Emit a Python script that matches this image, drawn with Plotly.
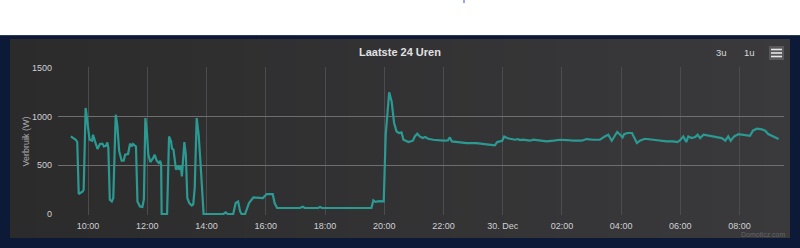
import plotly.graph_objects as go

# ---- data ----
times = [
    "2019-12-29 09:25", "2019-12-29 09:35", "2019-12-29 09:38", "2019-12-29 09:41", "2019-12-29 09:49",
    "2019-12-29 09:51", "2019-12-29 09:55", "2019-12-29 09:59", "2019-12-29 10:03", "2019-12-29 10:08",
    "2019-12-29 10:10", "2019-12-29 10:14", "2019-12-29 10:19", "2019-12-29 10:24", "2019-12-29 10:29",
    "2019-12-29 10:32", "2019-12-29 10:36", "2019-12-29 10:39", "2019-12-29 10:41", "2019-12-29 10:44",
    "2019-12-29 10:48", "2019-12-29 10:51", "2019-12-29 10:56", "2019-12-29 10:59", "2019-12-29 11:03",
    "2019-12-29 11:08", "2019-12-29 11:12", "2019-12-29 11:15", "2019-12-29 11:21", "2019-12-29 11:25",
    "2019-12-29 11:29", "2019-12-29 11:31", "2019-12-29 11:37", "2019-12-29 11:40", "2019-12-29 11:45",
    "2019-12-29 11:50", "2019-12-29 11:53", "2019-12-29 11:56", "2019-12-29 11:59", "2019-12-29 12:02",
    "2019-12-29 12:06", "2019-12-29 12:11", "2019-12-29 12:15", "2019-12-29 12:19", "2019-12-29 12:23",
    "2019-12-29 12:26", "2019-12-29 12:28", "2019-12-29 12:29", "2019-12-29 12:40", "2019-12-29 12:44",
    "2019-12-29 12:48", "2019-12-29 12:50", "2019-12-29 12:53", "2019-12-29 12:58", "2019-12-29 13:02",
    "2019-12-29 13:04", "2019-12-29 13:08", "2019-12-29 13:10", "2019-12-29 13:13", "2019-12-29 13:15",
    "2019-12-29 13:18", "2019-12-29 13:21", "2019-12-29 13:25", "2019-12-29 13:30", "2019-12-29 13:33",
    "2019-12-29 13:36", "2019-12-29 13:40", "2019-12-29 13:44", "2019-12-29 13:48", "2019-12-29 13:51",
    "2019-12-29 13:54", "2019-12-29 14:34", "2019-12-29 14:39", "2019-12-29 14:43", "2019-12-29 14:54",
    "2019-12-29 14:59", "2019-12-29 15:04", "2019-12-29 15:08", "2019-12-29 15:11", "2019-12-29 15:18",
    "2019-12-29 15:26", "2019-12-29 15:35", "2019-12-29 15:45", "2019-12-29 15:54", "2019-12-29 16:02",
    "2019-12-29 16:14", "2019-12-29 16:18", "2019-12-29 16:23", "2019-12-29 17:09", "2019-12-29 17:15",
    "2019-12-29 17:19", "2019-12-29 17:46", "2019-12-29 17:50", "2019-12-29 17:54", "2019-12-29 19:34",
    "2019-12-29 19:38", "2019-12-29 19:42", "2019-12-29 19:50", "2019-12-29 19:59", "2019-12-29 20:03",
    "2019-12-29 20:10", "2019-12-29 20:15", "2019-12-29 20:20", "2019-12-29 20:25", "2019-12-29 20:30",
    "2019-12-29 20:35", "2019-12-29 20:39", "2019-12-29 20:49", "2019-12-29 20:58", "2019-12-29 21:02",
    "2019-12-29 21:07", "2019-12-29 21:12", "2019-12-29 21:18", "2019-12-29 21:23", "2019-12-29 21:29",
    "2019-12-29 21:39", "2019-12-29 22:00", "2019-12-29 22:09", "2019-12-29 22:13", "2019-12-29 22:17",
    "2019-12-29 22:30", "2019-12-29 22:47", "2019-12-29 23:07", "2019-12-29 23:28", "2019-12-29 23:44",
    "2019-12-29 23:49", "2019-12-29 23:59", "2019-12-30 00:03", "2019-12-30 00:09", "2019-12-30 00:15",
    "2019-12-30 00:25", "2019-12-30 00:31", "2019-12-30 00:35", "2019-12-30 00:41", "2019-12-30 00:49",
    "2019-12-30 00:55", "2019-12-30 01:02", "2019-12-30 01:15", "2019-12-30 01:29", "2019-12-30 01:43",
    "2019-12-30 01:56", "2019-12-30 02:10", "2019-12-30 02:22", "2019-12-30 02:40", "2019-12-30 02:50",
    "2019-12-30 03:03", "2019-12-30 03:17", "2019-12-30 03:27", "2019-12-30 03:34", "2019-12-30 03:41",
    "2019-12-30 03:46", "2019-12-30 03:52", "2019-12-30 03:58", "2019-12-30 04:03", "2019-12-30 04:06",
    "2019-12-30 04:13", "2019-12-30 04:22", "2019-12-30 04:26", "2019-12-30 04:32", "2019-12-30 04:38",
    "2019-12-30 04:48", "2019-12-30 05:05", "2019-12-30 05:19", "2019-12-30 05:32", "2019-12-30 05:45",
    "2019-12-30 05:54", "2019-12-30 06:00", "2019-12-30 06:06", "2019-12-30 06:12", "2019-12-30 06:16",
    "2019-12-30 06:23", "2019-12-30 06:30", "2019-12-30 06:35", "2019-12-30 06:40", "2019-12-30 06:47",
    "2019-12-30 06:56", "2019-12-30 07:07", "2019-12-30 07:17", "2019-12-30 07:24", "2019-12-30 07:31",
    "2019-12-30 07:37", "2019-12-30 07:42", "2019-12-30 07:49", "2019-12-30 07:58", "2019-12-30 08:08",
    "2019-12-30 08:21", "2019-12-30 08:27", "2019-12-30 08:35", "2019-12-30 08:45", "2019-12-30 08:52",
    "2019-12-30 08:58", "2019-12-30 09:09", "2019-12-30 09:19",
]
watts = [
    797, 763, 740, 205, 232,
    250, 1089, 951, 763, 753,
    814, 746, 668, 719, 722,
    694, 700, 735, 678, 147,
    129, 164, 1020, 917, 643,
    547, 547, 609, 616, 722,
    694, 719, 694, 129, 78,
    72, 150, 986, 848, 609,
    534, 568, 609, 547, 524,
    547, 506, 0, 0, 797,
    746, 671, 661, 455, 496,
    455, 496, 386, 609, 739,
    609, 164, 113, 88, 99,
    267, 986, 814, 506, 198,
    0, 0, 16, 0, 0,
    113, 129, 27, 0, 0,
    113, 171, 171, 164, 205,
    205, 110, 62, 62, 75,
    62, 62, 72, 62, 62,
    140, 125, 133, 130, 814,
    1249, 1157, 935, 848, 832,
    838, 763, 739, 753, 797,
    825, 797, 780, 791, 773,
    763, 753, 756, 787, 746,
    739, 729, 729, 712, 705,
    739, 753, 797, 780, 773,
    763, 770, 760, 763, 753,
    753, 763, 753, 746, 753,
    763, 760, 753, 753, 770,
    763, 763, 797, 814, 753,
    800, 842, 814, 787, 820,
    832, 832, 787, 729, 753,
    773, 763, 753, 746, 746,
    739, 760, 797, 739, 797,
    780, 790, 814, 780, 814,
    807, 797, 787, 780, 753,
    797, 753, 797, 821, 814,
    804, 856, 876, 870, 856,
    821, 797, 770,
]
y_ticks = [0, 500, 1000, 1500]
x_tick_vals = ["2019-12-29 10:00", "2019-12-29 12:00", "2019-12-29 14:00", "2019-12-29 16:00",
               "2019-12-29 18:00", "2019-12-29 20:00", "2019-12-29 22:00", "2019-12-30 00:00",
               "2019-12-30 02:00", "2019-12-30 04:00", "2019-12-30 06:00", "2019-12-30 08:00"]
x_tick_text = ["10:00", "12:00", "14:00", "16:00", "18:00", "20:00", "22:00", "30. Dec",
               "02:00", "04:00", "06:00", "08:00"]
title_text = "Laatste 24 Uren"
y_title = "Verbruik (W)"

# ---- layout geometry ----
W, H = 800, 248
ML, MR, MT, MB = 58, 16, 67, 33
PW, PH = W - ML - MR, H - MT - MB


def px(xp):
    return (xp - ML) / PW


def py(yp):
    return 1 - (yp - MT) / PH


shapes = []
# white top band
shapes.append(dict(type="rect", xref="paper", yref="paper", x0=px(0), x1=px(W), y0=py(35), y1=py(0),
                   fillcolor="white", line_width=0, layer="below"))
shapes.append(dict(type="line", xref="paper", yref="paper", x0=px(0), x1=px(W), y0=py(35.5), y1=py(35.5),
                   line=dict(color="#2b3a55", width=1), layer="below"))
# tiny blue mark at top
shapes.append(dict(type="line", xref="paper", yref="paper", x0=px(464), x1=px(464), y0=py(0), y1=py(3),
                   line=dict(color="#3344ff", width=1), layer="below"))
# panel with a soft horizontal gradient
n = 30
c0 = (0x2b, 0x2b, 0x2c)
c1 = (0x3a, 0x3a, 0x3c)
x_left, x_right = 10, 790
for i in range(n):
    t = i / (n - 1)
    col = tuple(round(c0[k] + (c1[k] - c0[k]) * t) for k in range(3))
    xa = x_left + (x_right - x_left) * i / n
    xb = x_left + (x_right - x_left) * (i + 1) / n + 0.6
    shapes.append(dict(type="rect", xref="paper", yref="paper", x0=px(xa), x1=px(min(xb, x_right)),
                       y0=py(238), y1=py(39), fillcolor="rgb(%d,%d,%d)" % col, line_width=0, layer="below"))
# hamburger button
shapes.append(dict(type="rect", xref="paper", yref="paper", x0=px(769), x1=px(784), y0=py(60), y1=py(46),
                   fillcolor="#58585b", line_width=0, layer="below"))
for yy in (49.5, 53, 56.5):
    shapes.append(dict(type="line", xref="paper", yref="paper", x0=px(771), x1=px(782), y0=py(yy), y1=py(yy),
                       line=dict(color="#e8e8e8", width=1.6)))

annotations = [
    dict(text="<b>" + title_text + "</b>", xref="paper", yref="paper", x=px(400), y=py(52.5),
         showarrow=False, font=dict(size=11, color="#e0e0e3", family="Liberation Sans"),
         xanchor="center", yanchor="middle"),
    dict(text=y_title, xref="paper", yref="paper", x=px(25), y=py(141.5), textangle=-90,
         showarrow=False, font=dict(size=9, color="#a8a8ab", family="Liberation Sans"),
         xanchor="center", yanchor="middle"),
    dict(text="3u", xref="paper", yref="paper", x=px(721), y=py(52.5), showarrow=False,
         font=dict(size=9.5, color="#d8d8da", family="Liberation Sans"), xanchor="center", yanchor="middle"),
    dict(text="1u", xref="paper", yref="paper", x=px(749), y=py(52.5), showarrow=False,
         font=dict(size=9.5, color="#d8d8da", family="Liberation Sans"), xanchor="center", yanchor="middle"),
    dict(text="Domoticz.com", xref="paper", yref="paper", x=px(763.5), y=py(234), showarrow=False,
         font=dict(size=7, color="#666668", family="Liberation Sans"), xanchor="center", yanchor="middle"),
]

fig = go.Figure()
fig.add_trace(go.Scatter(x=times, y=watts, mode="lines",
                         line=dict(color="#2b9a93", width=2.2, shape="linear"),
                         hoverinfo="x+y", showlegend=False))

fig.update_layout(
    width=W, height=H, autosize=False,
    margin=dict(l=ML, r=MR, t=MT, b=MB, pad=0),
    paper_bgcolor="#0c1a37",
    plot_bgcolor="rgba(0,0,0,0)",
    shapes=shapes,
    annotations=annotations,
    font=dict(family="Liberation Sans", color="#d0d0d3"),
    showlegend=False,
)
fig.update_xaxes(
    type="date",
    range=["2019-12-29 08:59", "2019-12-30 09:30"],
    tickvals=x_tick_vals, ticktext=x_tick_text,
    showgrid=True, gridcolor="#4c4c4f", gridwidth=1,
    zeroline=False, showline=False, ticks="",
    tickfont=dict(size=9, color="#d0d0d3"),
    ticklabelstandoff=4,
)
fig.update_yaxes(
    range=[-10, 1510],
    tickvals=y_ticks,
    showgrid=True, gridcolor="#6e6e71", gridwidth=1,
    zeroline=False, showline=False, ticks="",
    tickfont=dict(size=9, color="#d0d0d3"),
    ticklabelstandoff=5,
)

fig.write_html("out.html")
